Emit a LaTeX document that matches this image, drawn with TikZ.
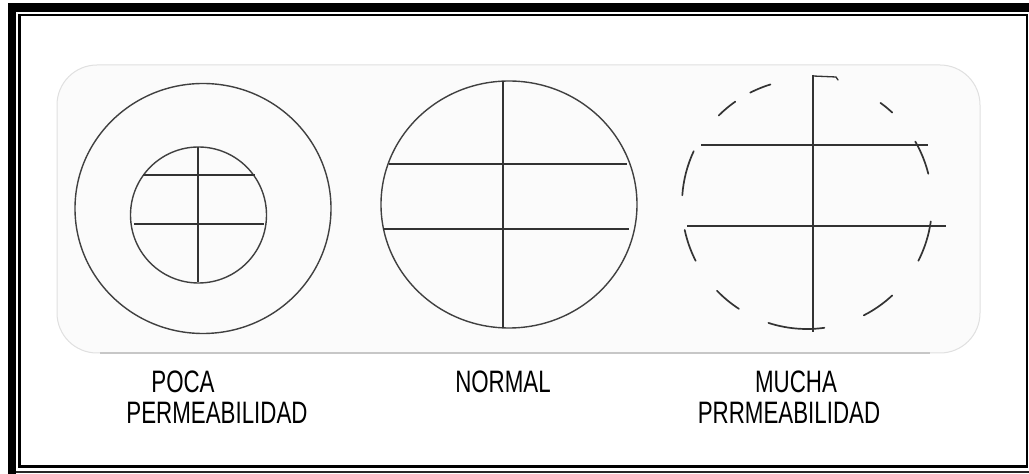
\documentclass[tikz,border=0pt]{standalone}
\usepackage{fontspec}
\setmainfont{Liberation Sans}
\begin{document}
\begin{tikzpicture}[x=1pt,y=1pt,
  ring/.style={draw=black!75,line width=1.4pt},
  hline/.style={draw=black!80,line width=1.9pt},
  vline/.style={draw=black!80,line width=1.2pt},
  dashring/.style={draw=black!80,line width=1.7pt,line cap=round},
  lbl/.style={anchor=base,inner sep=0pt,font=\fontsize{31}{34}\selectfont}]
\useasboundingbox (0,0) rectangle (1029,474);
\fill[white] (0,0) rectangle (1029,474);
% frame
\fill[black] (8,0) rectangle (16,471);
\fill[black] (8,462) rectangle (1029,471);
\draw[black,line width=2.5pt] (19.5,459) rectangle (1027,7.5);
\draw[black!85,line width=2.5pt] (16,2) -- (1029,2);
% soft background panel
\draw[draw=black!12,fill=black!1.5,line width=1pt,rounded corners=40pt] (57,121) rectangle (980,409);
\draw[black!22,line width=1.2pt] (100,121) -- (930,121);
% left: poca permeabilidad
\draw[ring] (203,265.5) ellipse[x radius=128,y radius=125];
\draw[ring] (198.5,259) circle[radius=68];
\draw[vline] (198,327) -- (198,192);
\draw[hline] (143,299) -- (255,299);
\draw[hline] (134,250) -- (264,250);
% middle: normal
\draw[ring] (509,269.5) ellipse[x radius=128,y radius=123.5];
\draw[vline] (503,393) -- (503,146);
\draw[hline] (389,310) -- (627,310);
\draw[hline] (383,245) -- (629,245);
% right: mucha permeabilidad
\coordinate (rc) at (807,270);
\foreach \a/\b in {107/117,125/135,155/176,192/207,224/237,252/278,297/313,333/352,14/30,47/54}{
  \draw[dashring] ([shift={(\a:125)}]rc) arc[start angle=\a,end angle=\b,radius=125];
}
\draw[vline,line width=1.6pt] (813,399) -- (813,142);
\draw[dashring,line width=1.3pt] (813,398) -- (836,397) -- (838,394);
\draw[hline] (701,329) -- (928,329);
\draw[hline] (687,248) -- (946,248);
% labels
\node[lbl] (poca) at (183,81) {\scalebox{0.72}[1]{POCA}};
\node[lbl] (perm1) at (217,50) {\scalebox{0.72}[1]{PERMEABILIDAD}};
\node[lbl] (normal) at (503,81) {\scalebox{0.72}[1]{NORMAL}};
\node[lbl] (mucha) at (796,81) {\scalebox{0.72}[1]{MUCHA}};
\node[lbl] (perm2) at (789,50) {\scalebox{0.72}[1]{PRRMEABILIDAD}};
\end{tikzpicture}
\end{document}
